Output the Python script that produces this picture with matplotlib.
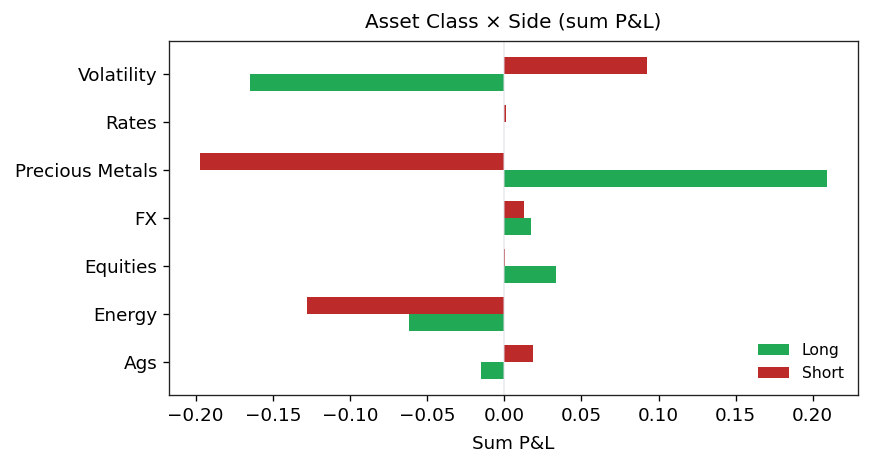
import numpy as np
import matplotlib
matplotlib.use("Agg")
import matplotlib.pyplot as plt

# asset classes, bottom to top
categories = ["Ags", "Energy", "Equities", "FX", "Precious Metals", "Rates", "Volatility"]
long_pnl = [-0.0149, -0.0616, 0.0337, 0.0175, 0.209, 0.0001, -0.165]
short_pnl = [0.0188, -0.128, 0.0003, 0.013, -0.197, 0.0013, 0.0928]

GREEN = "#22a955"
RED = "#bd2a2a"

plt.rcParams["font.size"] = 11

fig, ax = plt.subplots(figsize=(872 / 120, 469 / 120), dpi=120)
fig.subplots_adjust(left=169 / 872, right=858 / 872, top=1 - 41 / 469, bottom=1 - 395 / 469)

y = np.arange(len(categories))
h = 0.35
ax.barh(y - h / 2, long_pnl, height=h, color=GREEN, label="Long")
ax.barh(y + h / 2, short_pnl, height=h, color=RED, label="Short")
ax.axvline(0, color="#dcdce6", alpha=0.5, lw=1.2)

ax.set_yticks(y)
ax.set_yticklabels(categories)
ax.set_xlabel("Sum P&L", labelpad=6)
ax.set_title("Asset Class × Side (sum P&L)", fontsize=12, pad=8)
ax.legend(loc="lower right", frameon=False, fontsize=9.4)

for s in ax.spines.values():
    s.set_color("#222222")

fig.savefig("out.png", dpi=120)
